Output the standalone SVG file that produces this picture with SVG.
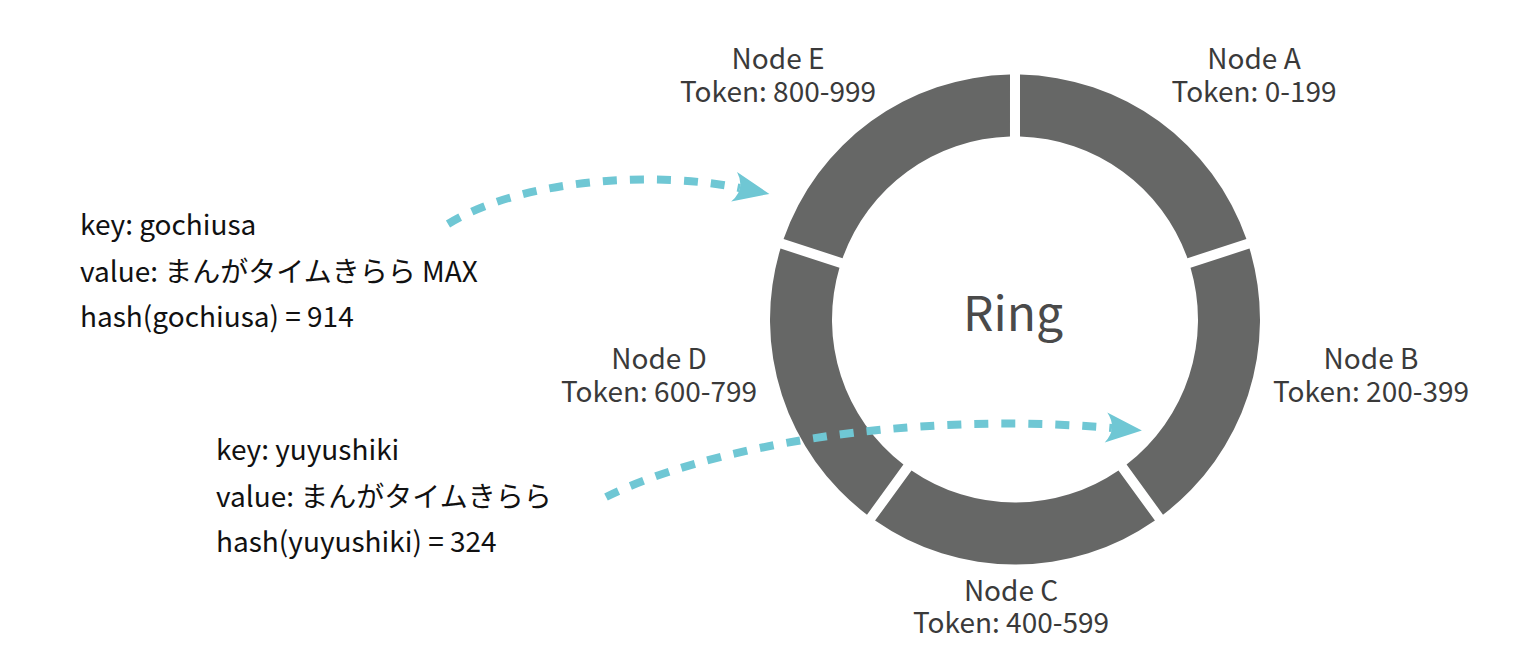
<svg xmlns="http://www.w3.org/2000/svg" width="1520" height="658" viewBox="0 0 1520 658">
<style>
.seg{fill:#666766}
.lbl{font-family:"Noto Sans CJK JP","Source Sans Pro","Noto Sans",sans-serif;font-size:28px;fill:#3a3a3a;text-anchor:middle}
.info{font-family:"Noto Sans CJK JP","Source Sans Pro","Noto Sans",sans-serif;font-size:28px;fill:#111}
.ring{font-family:"Noto Sans CJK JP","Source Sans Pro","Noto Sans",sans-serif;font-size:48px;fill:#4a4a4a;text-anchor:middle}
.flow{fill:none;stroke:#6fc7d4;stroke-width:8;stroke-dasharray:14 13;marker-end:url(#head)}
</style>
<defs>
<path id="segA" d="M5,-244.95 A245,245 0 0 1 231.41,-80.45 L172.43,-61.29 A183,183 0 0 0 5,-182.93 Z"/>
<marker id="head" markerUnits="userSpaceOnUse" markerWidth="50" markerHeight="40" viewBox="-10 -20 50 40" refX="4" refY="0" orient="auto" overflow="visible">
<path d="M34,0 L-2,-15 Q10,0 -2,15 Z" fill="#6fc7d4"/>
</marker>
</defs>
<rect width="1520" height="658" fill="#fff"/>
<g id="node-a">
<use href="#segA" class="seg" transform="translate(1015,319.5)"/>
<text class="lbl" x="1254" y="69">Node A</text>
<text class="lbl" x="1254" y="102">Token: 0-199</text>
</g>
<g id="node-b">
<use href="#segA" class="seg" transform="translate(1015,319.5) rotate(72)"/>
<text class="lbl" x="1371" y="369">Node B</text>
<text class="lbl" x="1371" y="402">Token: 200-399</text>
</g>
<g id="node-c">
<use href="#segA" class="seg" transform="translate(1015,319.5) rotate(144)"/>
<text class="lbl" x="1011" y="601">Node C</text>
<text class="lbl" x="1011" y="633">Token: 400-599</text>
</g>
<g id="node-d">
<use href="#segA" class="seg" transform="translate(1015,319.5) rotate(216)"/>
<text class="lbl" x="659" y="369">Node D</text>
<text class="lbl" x="659" y="402">Token: 600-799</text>
</g>
<g id="node-e">
<use href="#segA" class="seg" transform="translate(1015,319.5) rotate(288)"/>
<text class="lbl" x="778" y="69">Node E</text>
<text class="lbl" x="778" y="102">Token: 800-999</text>
</g>
<g id="ring-label">
<text class="ring" x="1013" y="331">Ring</text>
</g>
<g id="key-gochiusa">
<text class="info" x="80" y="235">key: gochiusa</text>
<text class="info" x="80" y="282">value: まんがタイムきらら MAX</text>
<text class="info" x="80" y="327">hash(gochiusa) = 914</text>
</g>
<g id="key-yuyushiki">
<text class="info" x="216" y="460">key: yuyushiki</text>
<text class="info" x="216" y="507">value: まんがタイムきらら</text>
<text class="info" x="216" y="552">hash(yuyushiki) = 324</text>
</g>
<g id="connectors">
<path class="flow" d="M448,224 C520,180 650,170 740,188"/>
<path class="flow" d="M606,497 C700,450 900,410 1112,428"/>
</g>
</svg>
